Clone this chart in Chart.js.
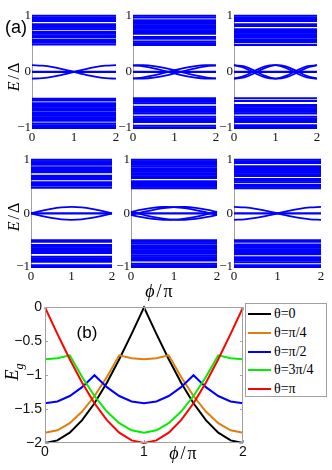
<!DOCTYPE html>
<html lang="en">
<head>
<meta charset="UTF-8">
<title>Subgap states and gap energy</title>
<script src="https://cdn.jsdelivr.net/npm/chart.js"></script>
<style>
  body { margin: 0; background: #fff; }
  #wrap { position: relative; width: 332px; height: 470px; overflow: hidden; }
  canvas { position: absolute; }
  .lbl { position: absolute; white-space: nowrap; color: #000; line-height: 1; }
  .sans { font-family: "Liberation Sans", Arial, sans-serif; }
  .serif { font-family: "Liberation Serif", "DejaVu Serif", serif; }
  .rot { transform: translate(-50%, -50%) rotate(-90deg); }
  .ctr { transform: translate(-50%, -50%); }
  #legend { position: absolute; left: 245px; top: 303px; width: 82px; height: 94px;
            border: 1px solid #a0a0a0; background: #fff; box-sizing: border-box;
            font-family: "Liberation Serif", serif; font-size: 14px; }
  #legend .row { position: absolute; left: 2px; height: 14px; display: flex; align-items: center; }
  #legend .swatch { width: 23px; height: 2px; margin-right: 3px; }
</style>
</head>
<body>
<div id="wrap">
  <canvas id="p1"></canvas>
  <canvas id="p2"></canvas>
  <canvas id="p3"></canvas>
  <canvas id="p4"></canvas>
  <canvas id="p5"></canvas>
  <canvas id="p6"></canvas>
  <canvas id="pb"></canvas>

  <div class="lbl sans ctr" style="left:16px;top:27px;font-size:18px;">(a)</div>
  <div class="lbl serif rot" style="left:14px;top:76px;font-size:16px;letter-spacing:2px;"><i>E</i>/Δ</div>
  <div class="lbl serif rot" style="left:14px;top:216px;font-size:16px;letter-spacing:2px;"><i>E</i>/Δ</div>
  <div class="lbl serif ctr" style="left:160px;top:291px;font-size:18px;letter-spacing:2px;"><i>ϕ</i>/π</div>
  <div class="lbl sans ctr" style="left:87px;top:332px;font-size:17px;">(b)</div>
  <div class="lbl serif rot" style="left:14px;top:372px;font-size:18px;"><i>E<sub style="font-size:12px">g</sub></i></div>
  <div class="lbl serif ctr" style="left:184px;top:453px;font-size:18px;letter-spacing:2px;"><i>ϕ</i>/π</div>
  <div id="legend"></div>
</div>

<script>
// ---- (a) subgap spectra, E/Δ vs ϕ/π ----
const phi = [0, 0.25, 0.5, 0.75, 1, 1.25, 1.5, 1.75, 2];

// flat levels (continuum + zero mode) for each panel
const p1Flat = [1.0, 0.97, 0.94, 0.91, 0.85, 0.82, 0.79, 0.76, 0.71, 0.68, 0.65, 0.62, 0.57, 0.53, 0.49,
                0,
                -0.48, -0.51, -0.56, -0.59, -0.62, -0.65, -0.68, -0.72, -0.75, -0.78, -0.81, -0.84, -0.87, -0.92, -0.95, -0.98, -1.0];
const p2Flat = [1.0, 0.97, 0.92, 0.89, 0.86, 0.83, 0.80, 0.77, 0.74, 0.71, 0.68, 0.62, 0.59, 0.54, 0.51, 0.48,
                0,
                -0.47, -0.50, -0.53, -0.56, -0.62, -0.65, -0.68, -0.71, -0.74, -0.80, -0.83, -0.86, -0.89, -0.96, -0.99, -1.0];
const p3Flat = [1.0, 0.97, 0.94, 0.91, 0.85, 0.82, 0.76, 0.73, 0.70, 0.67, 0.64, 0.61, 0.57, 0.53, 0.48,
                0,
                -0.47, -0.52, -0.59, -0.62, -0.65, -0.68, -0.71, -0.74, -0.80, -0.83, -0.86, -0.89, -0.95, -0.98, -1.0];
const p4Flat = [1.0, 0.97, 0.94, 0.91, 0.86, 0.83, 0.80, 0.77, 0.70, 0.67, 0.64, 0.58, 0.55, 0.52, 0.48,
                0,
                -0.50, -0.53, -0.59, -0.62, -0.65, -0.68, -0.71, -0.74, -0.81, -0.84, -0.87, -0.90, -0.97, -1.0];
const p5Flat = [1.0, 0.97, 0.94, 0.91, 0.88, 0.84, 0.81, 0.78, 0.75, 0.72, 0.69, 0.66, 0.60, 0.57, 0.53, 0.50, 0.47,
                0,
                -0.50, -0.53, -0.56, -0.60, -0.63, -0.66, -0.69, -0.72, -0.75, -0.79, -0.82, -0.85, -0.88, -0.94, -0.97, -1.0];
const p6Flat = [1.0, 0.97, 0.94, 0.88, 0.85, 0.82, 0.79, 0.76, 0.73, 0.70, 0.64, 0.61, 0.58, 0.53, 0.50, 0.47,
                0,
                -0.50, -0.53, -0.58, -0.61, -0.64, -0.67, -0.70, -0.73, -0.76, -0.82, -0.85, -0.88, -0.91, -0.97, -1.0];

// dispersing subgap states, sampled at phi
const p1Curves = [
  [0.12, 0.111, 0.085, 0.046, 0, -0.046, -0.085, -0.111, -0.12],
  [-0.12, -0.111, -0.085, -0.046, 0, 0.046, 0.085, 0.111, 0.12]
];
const p2Curves = [
  [0.117, 0.097, 0.063, 0.019, -0.028, -0.071, -0.102, -0.119, -0.117],
  [-0.117, -0.097, -0.063, -0.019, 0.028, 0.071, 0.102, 0.119, 0.117],
  [0.117, 0.119, 0.102, 0.071, 0.028, -0.019, -0.063, -0.097, -0.117],
  [-0.117, -0.119, -0.102, -0.071, -0.028, 0.019, 0.063, 0.097, 0.117]
];
const p3Curves = [
  [0.119, 0.071, -0.019, -0.097, -0.119, -0.071, 0.019, 0.097, 0.119],
  [-0.119, -0.071, 0.019, 0.097, 0.119, 0.071, -0.019, -0.097, -0.119],
  [0.119, 0.097, 0.019, -0.071, -0.119, -0.097, -0.019, 0.071, 0.119],
  [-0.119, -0.097, -0.019, 0.071, 0.119, 0.097, 0.019, -0.071, -0.119]
];
const p4Curves = [
  [0, 0.046, 0.085, 0.111, 0.12, 0.111, 0.085, 0.046, 0],
  [0, -0.046, -0.085, -0.111, -0.12, -0.111, -0.085, -0.046, 0]
];
const p5Curves = [
  [0.028, 0.071, 0.102, 0.119, 0.117, 0.097, 0.063, 0.019, -0.028],
  [-0.028, -0.071, -0.102, -0.119, -0.117, -0.097, -0.063, -0.019, 0.028],
  [-0.028, 0.019, 0.063, 0.097, 0.117, 0.119, 0.102, 0.071, 0.028],
  [0.028, -0.019, -0.063, -0.097, -0.117, -0.119, -0.102, -0.071, -0.028]
];
const p6Curves = [
  [0.12, 0.111, 0.085, 0.046, 0, -0.046, -0.085, -0.111, -0.12],
  [-0.12, -0.111, -0.085, -0.046, 0, 0.046, 0.085, 0.111, 0.12]
];
const panelXTicks = [0, 1, 2];
const panelYTicks = [-1, 0, 1];

// ---- (b) gap energy E_g vs ϕ/π ----
const phiB = [0, 0.125, 0.25, 0.375, 0.5, 0.625, 0.75, 0.875, 1, 1.125, 1.25, 1.375, 1.5, 1.625, 1.75, 1.875, 2];
const egTheta0 = [-2, -1.962, -1.848, -1.663, -1.414, -1.111, -0.765, -0.390, 0, -0.390, -0.765, -1.111, -1.414, -1.663, -1.848, -1.962, -2];
const egThetaQ = [-1.848, -1.812, -1.707, -1.536, -1.307, -1.027, -0.707, -0.751, -0.765, -0.751, -0.707, -1.027, -1.307, -1.536, -1.707, -1.812, -1.848];
const egThetaH = [-1.414, -1.387, -1.307, -1.176, -1, -1.176, -1.307, -1.387, -1.414, -1.387, -1.307, -1.176, -1, -1.176, -1.307, -1.387, -1.414];
const egTheta3Q = [-0.765, -0.751, -0.707, -1.027, -1.307, -1.536, -1.707, -1.812, -1.848, -1.812, -1.707, -1.536, -1.307, -1.027, -0.707, -0.751, -0.765];
const egThetaPi = [0, -0.390, -0.765, -1.111, -1.414, -1.663, -1.848, -1.962, -2, -1.962, -1.848, -1.663, -1.414, -1.111, -0.765, -0.390, 0];
const thetaLabels = ['θ=0', 'θ=π/4', 'θ=π/2', 'θ=3π/4', 'θ=π'];
const bXTicks = [0, 1, 2];
const bYTicks = [-2, -1.5, -1, -0.5, 0];

const lineColors = ['#000000', '#dd7f0a', '#0000ff', '#00ee00', '#ff0000'];
const levelBlue = '#0000ff';
const axisGray = '#a0a0a0';

const minus = v => (v < 0 ? '\u2212' + Math.abs(v) : String(v));

// plot-area rectangles of the six panels
const panelBoxes = [
  { id: 'p1', l: 32, t: 15, r: 116, b: 128 },
  { id: 'p2', l: 133, t: 15, r: 216, b: 128 },
  { id: 'p3', l: 234, t: 15, r: 317, b: 128 },
  { id: 'p4', l: 31, t: 159, r: 112, b: 267 },
  { id: 'p5', l: 131, t: 159, r: 217, b: 267 },
  { id: 'p6', l: 234, t: 159, r: 321, b: 267 }
];
const panelData = [
  [p1Flat, p1Curves], [p2Flat, p2Curves], [p3Flat, p3Curves],
  [p4Flat, p4Curves], [p5Flat, p5Curves], [p6Flat, p6Curves]
];

const PAD_T = 8, PAD_R = 8, Y_W = 24, X_H = 16;

function placeCanvas(cv, box, yW, xH) {
  cv.width = (box.r - box.l) + yW + PAD_R;
  cv.height = (box.b - box.t) + PAD_T + xH;
  cv.style.left = (box.l - yW) + 'px';
  cv.style.top = (box.t - PAD_T) + 'px';
}

panelBoxes.forEach((box, k) => {
  const [flat, curves] = panelData[k];
  const cv = document.getElementById(box.id);
  placeCanvas(cv, box, Y_W, X_H);

  const datasets = [];
  flat.forEach(v => datasets.push({
    data: [{ x: 0, y: v }, { x: 2, y: v }],
    borderColor: levelBlue, borderWidth: 2.1, showLine: true, pointRadius: 0, clip: 3
  }));
  curves.forEach(c => datasets.push({
    data: phi.map((x, i) => ({ x: x, y: c[i] })),
    borderColor: levelBlue, borderWidth: 1.8, showLine: true, pointRadius: 0, tension: 0.4, clip: 3
  }));

  new Chart(cv, {
    type: 'scatter',
    data: { datasets },
    options: {
      responsive: false,
      animation: false,
      events: [],
      layout: { padding: { top: PAD_T, right: PAD_R, left: 0, bottom: 0 } },
      plugins: { legend: { display: false }, tooltip: { enabled: false } },
      scales: {
        x: {
          type: 'linear', min: 0, max: 2,
          afterBuildTicks: s => { s.ticks = panelXTicks.map(v => ({ value: v })); },
          afterFit: s => { s.height = X_H; },
          ticks: { padding: 2, color: '#111', font: { family: 'Liberation Serif', size: 13 }, maxRotation: 0 },
          grid: { display: false, drawTicks: false },
          border: { display: false }
        },
        y: {
          min: -1, max: 1,
          afterBuildTicks: s => { s.ticks = panelYTicks.map(v => ({ value: v })); },
          afterFit: s => { s.width = Y_W; },
          ticks: { padding: 1, color: '#111', font: { family: 'Liberation Serif', size: 13 }, callback: v => minus(v) },
          grid: { display: false, drawTicks: false },
          border: { display: true, color: axisGray, width: 1 }
        }
      }
    }
  });
});

// ---- (b) ----
const frame = {
  id: 'frame',
  afterDatasetsDraw(chart) {
    const { ctx, chartArea: a, scales } = chart;
    ctx.save();
    ctx.strokeStyle = axisGray;
    ctx.lineWidth = 1;
    ctx.strokeRect(Math.round(a.left) + 0.5, Math.round(a.top) + 0.5,
                   Math.round(a.right - a.left) - 1, Math.round(a.bottom - a.top) - 1);
    ctx.beginPath();
    scales.y.ticks.forEach(t => {
      const y = Math.round(scales.y.getPixelForValue(t.value)) + 0.5;
      ctx.moveTo(a.left, y); ctx.lineTo(a.left + 3, y);
      ctx.moveTo(a.right, y); ctx.lineTo(a.right - 3, y);
    });
    scales.x.ticks.forEach(t => {
      const x = Math.round(scales.x.getPixelForValue(t.value)) + 0.5;
      ctx.moveTo(x, a.bottom); ctx.lineTo(x, a.bottom - 3);
      ctx.moveTo(x, a.top); ctx.lineTo(x, a.top + 3);
    });
    ctx.stroke();
    ctx.restore();
  }
};

const gapSeries = [egTheta0, egThetaQ, egThetaH, egTheta3Q, egThetaPi];
const boxB = { l: 45, t: 304, r: 243, b: 443 };
const cvB = document.getElementById('pb');
placeCanvas(cvB, boxB, 45, 20);

new Chart(cvB, {
  type: 'line',
  data: {
    datasets: gapSeries.map((s, i) => ({
      label: thetaLabels[i],
      data: phiB.map((x, j) => ({ x: x, y: s[j] })),
      borderColor: lineColors[i],
      borderWidth: 2,
      pointRadius: 0,
      tension: 0,
      order: gapSeries.length - i,
      clip: 2
    }))
  },
  options: {
    responsive: false,
    animation: false,
    events: [],
    layout: { padding: { top: PAD_T, right: PAD_R, left: 0, bottom: 0 } },
    plugins: { legend: { display: false }, tooltip: { enabled: false } },
    scales: {
      x: {
        type: 'linear', min: 0, max: 2,
        afterBuildTicks: s => { s.ticks = bXTicks.map(v => ({ value: v })); },
        afterFit: s => { s.height = 20; },
        ticks: { padding: 1, color: '#111', font: { family: 'Liberation Sans', size: 14 }, maxRotation: 0 },
        grid: { display: false, drawTicks: false },
        border: { display: false }
      },
      y: {
        min: -2, max: 0,
        afterBuildTicks: s => { s.ticks = bYTicks.map(v => ({ value: v })); },
        afterFit: s => { s.width = 45; },
        ticks: { padding: 3, color: '#111', font: { family: 'Liberation Sans', size: 14 }, callback: v => minus(v) },
        grid: { display: false, drawTicks: false },
        border: { display: false }
      }
    }
  },
  plugins: [frame]
});

// legend built from the series labels and colours
const legend = document.getElementById('legend');
thetaLabels.forEach((lab, i) => {
  const row = document.createElement('div');
  row.className = 'row';
  row.style.top = (3 + i * 18.8) + 'px';
  const sw = document.createElement('span');
  sw.className = 'swatch';
  sw.style.background = lineColors[i];
  const tx = document.createElement('span');
  tx.textContent = lab;
  row.appendChild(sw);
  row.appendChild(tx);
  legend.appendChild(row);
});
</script>
</body>
</html>
